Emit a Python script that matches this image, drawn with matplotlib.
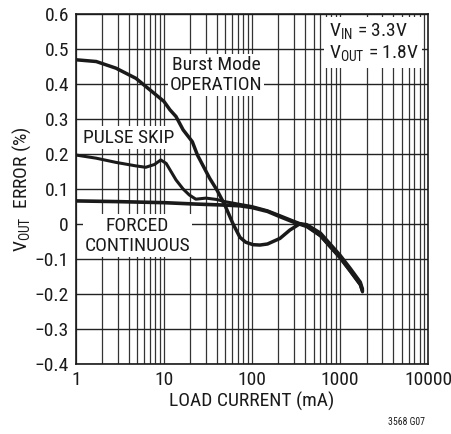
import matplotlib
matplotlib.use('Agg')
import matplotlib.pyplot as plt
import numpy as np

plt.rcParams['font.family'] = ['Roboto Condensed', 'Archivo Narrow', 'DejaVu Sans']

# load current (mA) and Vout error (%)
burst_x = [1, 1.7, 2.85, 4.8, 8.1, 10, 11.7, 13.7, 16.5, 21, 24, 33, 40, 49, 61, 73, 85, 103, 123, 150, 208, 270,
           351, 420, 600, 1000, 1300, 1700, 1800]
burst_y = [0.469, 0.464, 0.445, 0.416, 0.369, 0.35, 0.326, 0.307, 0.269, 0.235, 0.197, 0.131, 0.097, 0.055, 0.0,
           -0.038, -0.052, -0.059, -0.06, -0.057, -0.041, -0.017, 0.001, -0.002,
           -0.026, -0.089, -0.126, -0.166, -0.186]

skip_x = [1, 1.7, 2.85, 4.8, 6.2, 7.8, 9.2, 10.6, 13.7, 16.5, 19.4, 23, 30, 40, 49, 73, 100, 150, 208, 300, 420,
          600, 1000, 1300, 1700, 1800]
skip_y = [0.197, 0.188, 0.176, 0.166, 0.162, 0.17, 0.183, 0.173, 0.126, 0.1, 0.083, 0.071, 0.074, 0.07, 0.064,
          0.056, 0.05, 0.038, 0.024, 0.008, -0.006, -0.034, -0.097, -0.134, -0.174, -0.194]

forced_x = [1, 3, 10, 23, 50, 73, 100, 150, 208, 300, 420, 600, 1000, 1300, 1700, 1800]
forced_y = [0.066, 0.064, 0.061, 0.057, 0.054, 0.052, 0.047, 0.036, 0.021, 0.005, -0.007, -0.033, -0.095,
            -0.133, -0.172, -0.191]

yticks = [-0.4, -0.3, -0.2, -0.1, 0, 0.1, 0.2, 0.3, 0.4, 0.5, 0.6]
ytick_labels = ['\u22120.4', '\u22120.3', '\u22120.2', '\u22120.1', '0', '0.1', '0.2', '0.3', '0.4', '0.5', '0.6']
xticks = [1, 10, 100, 1000, 10000]
xtick_labels = ['1', '10', '100', '1000', '10000']

fig = plt.figure(figsize=(4.52, 4.34), dpi=100)
ax = fig.add_axes([0.168, 0.161, 0.779, 0.807])

ax.set_xscale('log')
ax.set_xlim(1, 10000)
ax.set_ylim(-0.4, 0.6)

# grid: every minor decade line, horizontal every 0.1
minors = [m * 10 ** d for d in range(4) for m in range(1, 10)]
for v in minors:
    ax.axvline(v, color='#333333', lw=0.9, zorder=1)
for v in yticks:
    ax.axhline(v, color='#222222', lw=1.0, zorder=1)

ax.plot(forced_x, forced_y, color='#1a1a1a', lw=2.6, zorder=3, solid_capstyle='round')
ax.plot(skip_x, skip_y, color='#1a1a1a', lw=2.2, zorder=3, solid_capstyle='round')
ax.plot(burst_x, burst_y, color='#1a1a1a', lw=2.5, zorder=3, solid_capstyle='round')

ax.set_xticks(xticks)
ax.set_xticklabels(xtick_labels)
ax.set_yticks(yticks)
ax.set_yticklabels(ytick_labels)
ax.xaxis.set_minor_locator(matplotlib.ticker.NullLocator())
ax.tick_params(axis='both', length=0, labelsize=14, pad=5, colors='#1a1a1a')
for s in ax.spines.values():
    s.set_color('#1a1a1a')
    s.set_linewidth(1.2)

ax.set_xlabel('LOAD CURRENT (mA)', fontsize=14, color='#1a1a1a', labelpad=2)
ax.set_ylabel('V$_{\\mathregular{OUT}}$  ERROR (%)', fontsize=14, color='#1a1a1a', labelpad=1)

box = dict(facecolor='white', edgecolor='none', pad=1.5)
ax.text(39, 0.425, 'Burst Mode\nOPERATION', ha='center', va='center', fontsize=14,
        linespacing=1.12, bbox=box, zorder=4, color='#1a1a1a')
ax.text(4.0, 0.247, 'PULSE SKIP', ha='center', va='center', fontsize=14,
        bbox=box, zorder=4, color='#1a1a1a')
ax.text(5.0, -0.033, 'FORCED\nCONTINUOUS', ha='center', va='center', fontsize=14,
        linespacing=1.15, bbox=box, zorder=4, color='#1a1a1a')
ax.text(740, 0.518, 'V$_{\\mathregular{IN}}$ = 3.3V\nV$_{\\mathregular{OUT}}$ = 1.8V', ha='left', va='center',
        fontsize=14, linespacing=1.12, zorder=4, color='#1a1a1a',
        bbox=dict(facecolor='white', edgecolor='none', pad=3))

fig.text(0.9, 0.02, '3568 G07', fontsize=7, ha='center', color='#1a1a1a')

fig.savefig('out.png', dpi=100)
